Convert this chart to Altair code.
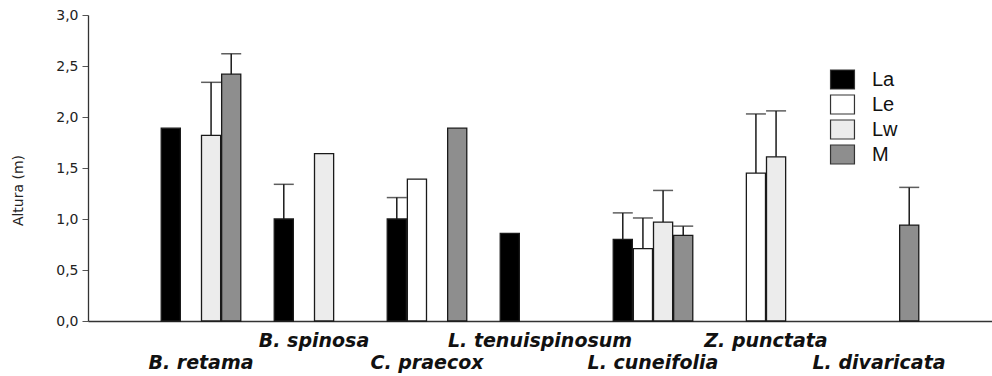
import altair as alt
import pandas as pd

# Species along the x axis, in drawing order
species = ["B. retama", "B. spinosa", "C. praecox", "L. tenuispinosum",
           "L. cuneifolia", "Z. punctata", "L. divaricata"]
groups = ["La", "Le", "Lw", "M"]

# One record per bar: species, group, mean height (m), SD (None = no error bar)
bar_species = ["B. retama", "B. retama", "B. retama",
               "B. spinosa", "B. spinosa",
               "C. praecox", "C. praecox", "C. praecox",
               "L. tenuispinosum",
               "L. cuneifolia", "L. cuneifolia", "L. cuneifolia", "L. cuneifolia",
               "Z. punctata", "Z. punctata",
               "L. divaricata"]
bar_group = ["La", "Lw", "M",
             "La", "Lw",
             "La", "Le", "M",
             "La",
             "La", "Le", "Lw", "M",
             "Le", "Lw",
             "M"]
bar_mean = [1.89, 1.82, 2.42,
            1.00, 1.64,
            1.00, 1.39, 1.89,
            0.86,
            0.80, 0.71, 0.97, 0.84,
            1.45, 1.61,
            0.94]
bar_sd = [None, 0.52, 0.20,
          0.34, None,
          0.21, None, None,
          None,
          0.26, 0.30, 0.31, 0.09,
          0.58, 0.45,
          0.37]

group_colors = ["#000000", "#ffffff", "#ececec", "#8e8e8e"]

df = pd.DataFrame({"species": bar_species, "group": bar_group,
                   "mean": bar_mean, "sd": bar_sd})
err_df = df.dropna(subset=["sd"]).copy()

labels_df = pd.DataFrame({"species": species,
                          "row": [i % 2 for i in range(len(species))]})

x_enc = alt.X("species:N", sort=species, title=None,
              scale=alt.Scale(domain=species, paddingInner=0, paddingOuter=0.5),
              axis=alt.Axis(labels=False, ticks=False, domain=True,
                            domainColor="#333333", domainWidth=1.5))
xoff_enc = alt.XOffset("group:N", sort=groups,
                       scale=alt.Scale(domain=groups, paddingOuter=0.83, paddingInner=0.05))

y_enc = alt.Y("mean:Q", title="Altura (m)",
              scale=alt.Scale(domain=[0, 3], nice=False, zero=True),
              axis=alt.Axis(values=[0, 0.5, 1, 1.5, 2, 2.5, 3],
                            labelExpr="replace(format(datum.value, '.1f'), '.', ',')",
                            grid=False, tickSize=6, tickColor="#555555",
                            domainColor="#333333", domainWidth=1.3,
                            labelFont="DejaVu Sans", labelFontSize=14,
                            labelColor="#222222", labelPadding=4,
                            titleFont="DejaVu Sans", titleFontSize=14,
                            titleFontWeight="normal", titleColor="#222222",
                            titleAngle=270, titleX=-70, titleY=175,
                            titleAlign="center", titleBaseline="middle"))

bars = alt.Chart(df).mark_bar(stroke="#1a1a1a", strokeWidth=1.3).encode(
    x=x_enc,
    xOffset=xoff_enc,
    y=y_enc,
    fill=alt.Fill("group:N",
                  scale=alt.Scale(domain=groups, range=group_colors),
                  legend=alt.Legend(title=None, orient="none",
                                    legendX=744, legendY=54,
                                    symbolType="M-1.26,-1L1.26,-1L1.26,1L-1.26,1Z",
                                    symbolSize=361, symbolStrokeColor="#333333",
                                    symbolStrokeWidth=1.2, symbolOpacity=1,
                                    labelFont="Liberation Sans", labelFontSize=20,
                                    labelColor="#111111", labelOffset=19,
                                    rowPadding=0, padding=0)),
)

err_base = alt.Chart(err_df).transform_calculate(upper="datum.mean + datum.sd")

err_lines = err_base.mark_rule(color="#1a1a1a", strokeWidth=1.5).encode(
    x=alt.X("species:N", sort=species),
    xOffset=alt.XOffset("group:N", sort=groups),
    y="mean:Q",
    y2="upper:Q",
)

err_caps = err_base.mark_tick(color="#1a1a1a", thickness=1.5, size=20).encode(
    x=alt.X("species:N", sort=species),
    xOffset=alt.XOffset("group:N", sort=groups),
    y="upper:Q",
)

label_style = dict(font="DejaVu Sans", fontSize=19, fontWeight="bold",
                   fontStyle="italic", color="#111111", align="center",
                   baseline="alphabetic")

upper_labels = alt.Chart(labels_df).transform_filter("datum.row == 1").mark_text(
    **label_style).encode(x=alt.X("species:N", sort=species), y=alt.value(332),
                          text="species:N")
lower_labels = alt.Chart(labels_df).transform_filter("datum.row == 0").mark_text(
    **label_style).encode(x=alt.X("species:N", sort=species), y=alt.value(354),
                          text="species:N")

chart = alt.layer(bars, err_lines, err_caps, upper_labels, lower_labels).properties(
    width=904, height=306,
    autosize=alt.AutoSizeParams(type="none"),
    padding={"left": 88, "top": 15, "right": 0, "bottom": 55},
).configure(background="white").configure_view(stroke="transparent", strokeWidth=0)

chart.save("out.html", embed_options={"renderer": "svg", "actions": False})
